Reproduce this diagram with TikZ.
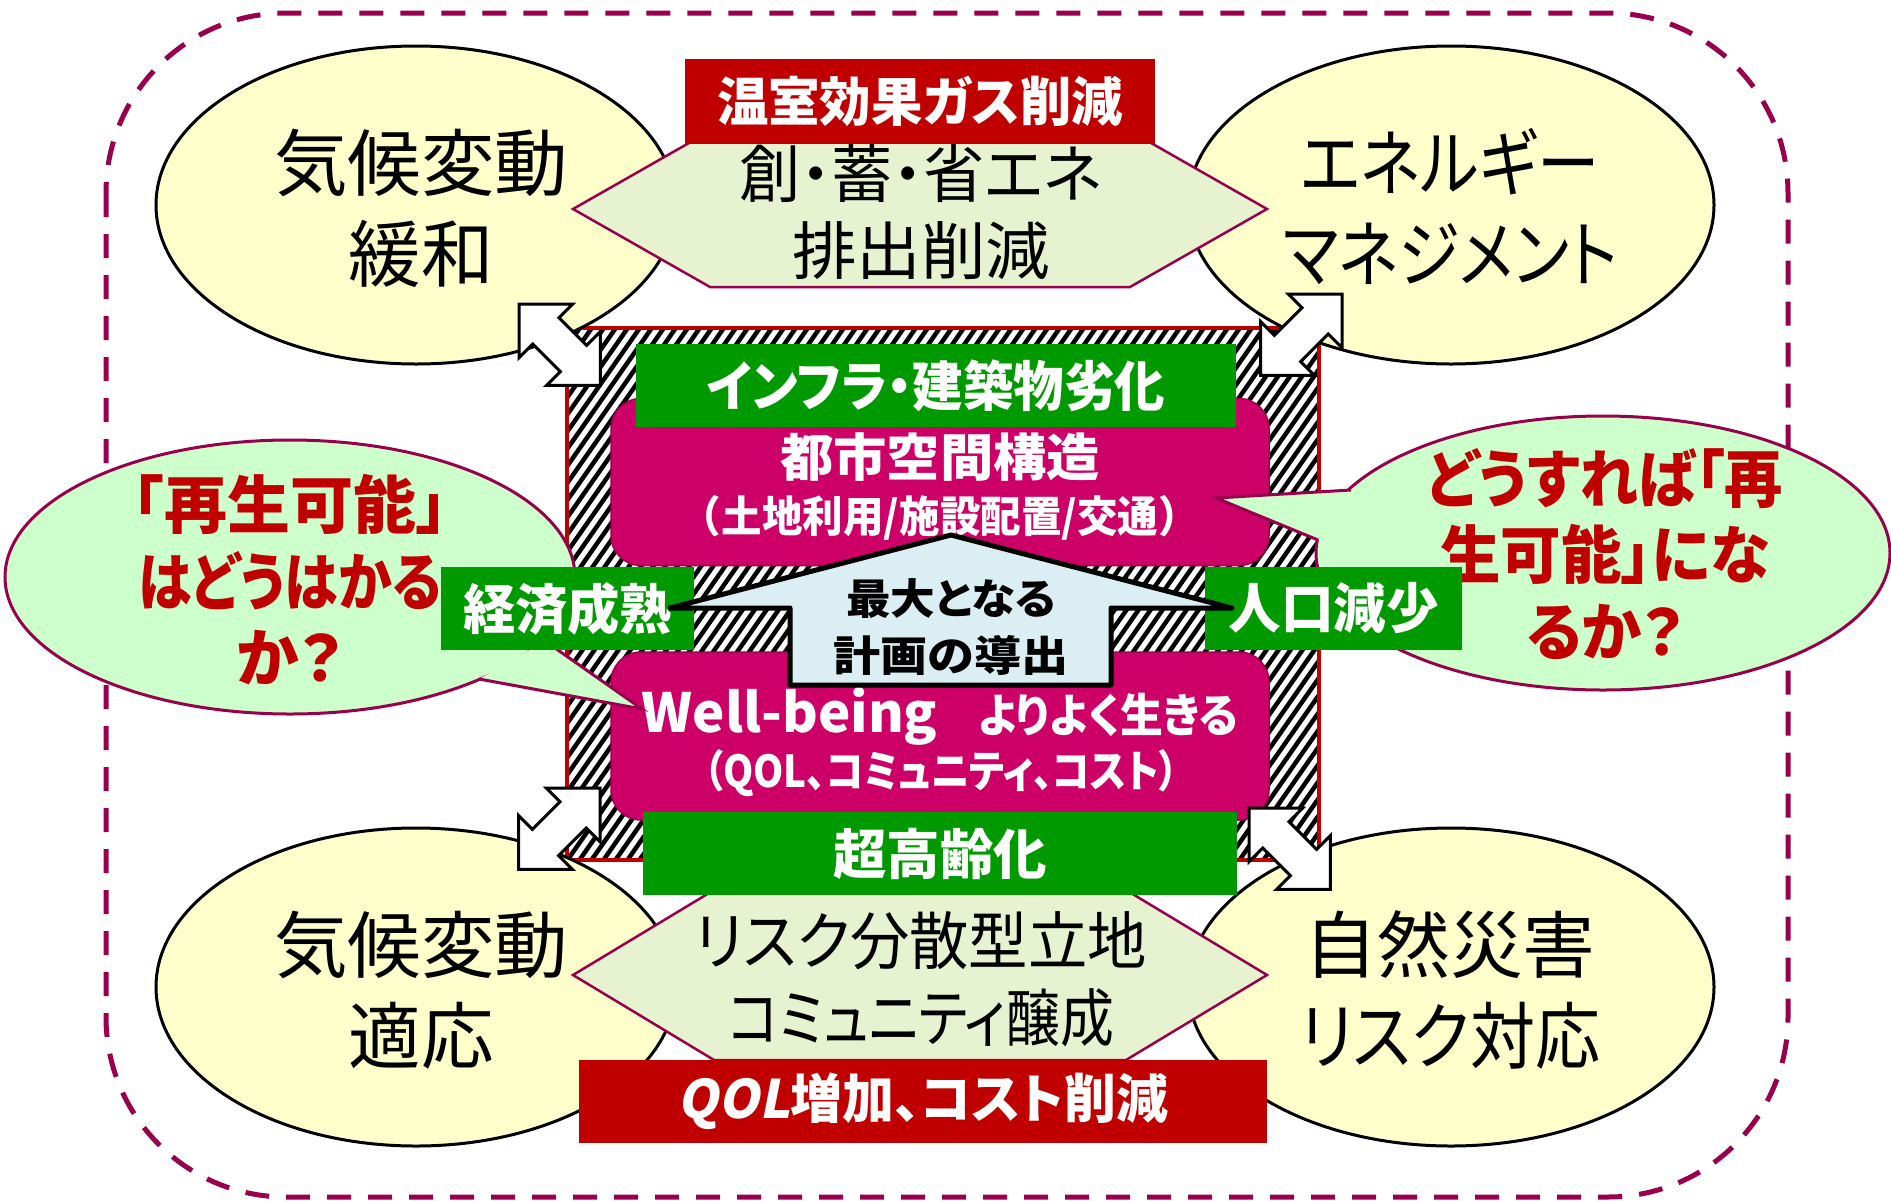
\documentclass[tikz,border=0pt]{standalone}
\usepackage{fontspec}
\usepackage{graphicx}
\usetikzlibrary{shapes.geometric}
\setmainfont{Noto Sans CJK JP}[RawFeature=+palt]
\newfontfamily\jpfull{Noto Sans CJK JP}
\newfontfamily\qolfont{Noto Sans CJK JP}[FakeSlant=0.2]
\definecolor{ellfill}{HTML}{FFFFCC}
\definecolor{hexfill}{HTML}{E6F2D0}
\definecolor{bubfill}{HTML}{CCFFCC}
\definecolor{magc}{HTML}{CC0066}
\definecolor{magd}{HTML}{A3004F}
\definecolor{greenc}{HTML}{009900}
\definecolor{redc}{HTML}{C00000}
\definecolor{bluef}{HTML}{DAEEF3}
\definecolor{dashc}{HTML}{99004C}
\newcommand{\fw}[2]{\resizebox{#1pt}{\height}{#2}}
\newcommand{\dblarr}[3]{\draw[dblarrow, shift={(#1,#2)}, rotate=#3] (0,0) -- (38,38) -- (38,18.5) -- (77,18.5) -- (77,38) -- (115,0) -- (77,-38) -- (77,-18.5) -- (38,-18.5) -- (38,-38) -- cycle;}
\tikzset{
 ell/.style={ellipse, draw=black, line width=3pt, fill=ellfill, inner sep=0pt, minimum width=520pt, minimum height=318pt},
 elltxt/.style={align=center, inner sep=0pt, font=\fontsize{73}{91}\selectfont},
 hexsty/.style={fill=hexfill, draw=dashc, line width=2.5pt, line join=miter},
 hextxt/.style={align=center, inner sep=0pt, font=\fontsize{63}{77}\selectfont},
 redbox/.style={rectangle, fill=redc, text=white, inner sep=0pt, font=\bfseries\fontsize{53}{58}\selectfont},
 greenbox/.style={rectangle, fill=greenc, text=white, inner sep=0pt, font=\bfseries\fontsize{54}{58}\selectfont},
 magbox/.style={rectangle, rounded corners=30pt, fill=magc, draw=magd, line width=1.5pt},
 wtxt/.style={text=white, inner sep=0pt, align=center},
 bubble/.style={ellipse, fill=bubfill, draw=dashc, line width=3pt, inner sep=0pt},
 bubline/.style={draw=dashc, line width=3pt, line join=miter},
 redtxt/.style={text=redc, align=center, inner sep=0pt, font=\bfseries\fontsize{63}{76.5}\selectfont},
 blktxt/.style={text=black, align=center, inner sep=0pt, font=\bfseries\fontsize{42}{57}\selectfont},
 bluearrow/.style={fill=bluef, draw=black, line width=5pt, line join=round},
 dblarrow/.style={fill=white, draw=black, line width=3pt, line join=miter},
 hatchline/.style={line width=4.5pt, draw=black},
 redframe/.style={draw=redc, line width=4pt},
 outerdash/.style={draw=dashc, line width=5pt, dash pattern=on 24pt off 17pt, rounded corners=180pt},
}
\begin{document}
\begin{tikzpicture}[x=1pt,y=-1pt]
\useasboundingbox (0,0) rectangle (1891,1200);
% outer dashed frame
\draw[outerdash] (106,13) rectangle (1788,1197);
% hatched area
\fill[white] (567,328) rectangle (1319,860);
\begin{scope}
 \clip (567,328) rectangle (1319,860);
 \foreach \i in {0,...,96} \draw[hatchline] (180+12*\i,865) -- ++(380,-543);
\end{scope}
\draw[redframe] (567,328) rectangle (1319,860);
% ellipses
\node[ell] (e1) at (416,205) {};
\node[ell, minimum width=526pt] (e2) at (1451,205) {};
\node[ell] (e3) at (416,987) {};
\node[ell, minimum width=526pt] (e4) at (1451,987) {};
\node[elltxt] (t1) at (421,208) {\fw{294}{気候変動}\\\fw{145}{緩和}};
\node[elltxt] (t2) at (1450,207) {\fw{298}{エネルギー}\\\fw{335}{マネジメント}};
\node[elltxt] (t3) at (421,990) {\fw{294}{気候変動}\\\fw{145}{適応}};
\node[elltxt] (t4) at (1450,990) {\fw{291}{自然災害}\\\fw{300}{リスク対応}};
% hexagons
\draw[hexsty] (573,209) -- (710,131) -- (1130,131) -- (1267,209) -- (1130,287) -- (710,287) -- cycle;
\draw[hexsty] (573,975) -- (714,890) -- (1126,890) -- (1267,975) -- (1126,1060) -- (714,1060) -- cycle;
\node[hextxt] (h1) at (921,212) {\fw{362}{創・蓄・省エネ}\\\fw{258}{排出削減}};
\node[hextxt] (h2) at (921,979) {\fw{452}{リスク分散型立地}\\\fw{386}{コミュニティ醸成}};
% red boxes
\node[redbox, minimum width=470pt, minimum height=85pt] (r1) at (920,101.5) {\fw{406}{温室効果ガス削減}};
\node[redbox, minimum width=688pt, minimum height=83pt] (r2) at (923,1101.5) {\fw{490}{{\qolfont QOL}増加、コスト削減}};
% magenta boxes
\node[magbox, minimum width=658pt, minimum height=167pt] (m1) at (940,482) {};
\node[magbox, minimum width=658pt, minimum height=168pt] (m2) at (940,736) {};
\node[wtxt, font=\bfseries\fontsize{51}{56}\selectfont] (m1a) at (940,457.5) {\fw{320}{都市空間構造}};
\node[wtxt, font=\bfseries\fontsize{43}{48}\selectfont] (m1b) at (940,518) {\fw{518}{\jpfull （土地利用/施設配置/交通）}};
\node[wtxt, font=\bfseries\fontsize{54}{58}\selectfont] (m2a) at (940,717) {\fw{296}{Well-being}\hspace{41pt}{\fontsize{46}{50}\selectfont\fw{260}{よりよく生きる}}};
\node[wtxt, font=\bfseries\fontsize{44}{48}\selectfont] (m2b) at (941,773) {\fw{474}{（QOL、コミュニティ、コスト）}};
% green boxes
\node[greenbox, minimum width=600pt, minimum height=83pt, font=\bfseries\fontsize{54}{58}\selectfont] (g1) at (936,385.5) {\fw{458}{インフラ・建築物劣化}};
\node[greenbox, minimum width=594pt, minimum height=83pt] (g2) at (940,853.5) {\fw{214}{超高齢化}};
% speech bubbles
\node[bubble, minimum width=570pt, minimum height=274pt] (b1) at (290,577) {};
\fill[bubfill] (545,641) -- (642,709) -- (479,679) -- cycle;
\draw[bubline] (545,641) -- (642,709) -- (479,679);
\node[redtxt] (bt1) at (290,580) {\fw{315}{「再生可能」}\\\fw{303}{はどうはかる}\\\fw{106}{か？}};
\node[bubble, minimum width=574pt, minimum height=274pt] (b2) at (1603,553) {};
\fill[bubfill] (1351,490) -- (1216,498) -- (1318,540) -- cycle;
\draw[bubline] (1351,490) -- (1216,498) -- (1318,540);
\node[redtxt] (bt2) at (1605,554) {\fw{356}{どうすれば「再}\\\fw{330}{生可能」にな}\\\fw{158}{るか？}};
% side green boxes
\node[greenbox, minimum width=253pt, minimum height=83pt] (g3) at (567.5,608.5) {\fw{209}{経済成熟}};
\node[greenbox, minimum width=257pt, minimum height=83pt] (g4) at (1333.5,608.5) {\fw{210}{人口減少}};
% light blue up arrow
\draw[bluearrow] (951,535) -- (1232,608) -- (1111,608) -- (1111,685) -- (790,685) -- (790,608) -- (670,608) -- cycle;
\node[blktxt] (a1) at (951,627) {\fw{210}{最大となる}\\\fw{235}{計画の導出}};
% double arrows
\dblarr{519}{304}{-45}
\dblarr{1342}{294}{-135}
\dblarr{600}{788}{-135}
\dblarr{1249}{808}{-45}
\end{tikzpicture}
\end{document}
